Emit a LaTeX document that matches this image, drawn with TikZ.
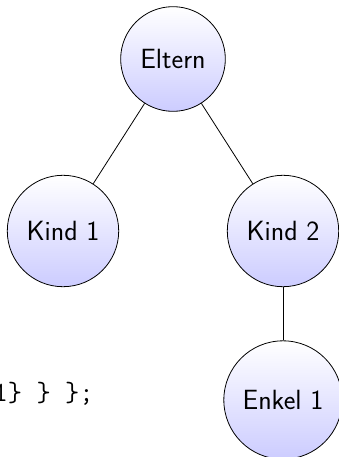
\documentclass[tikz,border=0pt]{standalone}
\usepackage{fontspec}
\begin{document}
\begin{tikzpicture}[x=1pt,y=-1pt,
  treenode/.style={circle,draw=black,line width=0.8pt,top color=white,bottom color=blue!20,
    inner sep=14pt,font=\fontsize{27.8}{33}\selectfont\sffamily},
  link/.style={draw=black,line width=0.8pt},
  codetxt/.style={inner sep=0pt,font=\fontsize{27.8}{33}\selectfont\ttfamily}]
\useasboundingbox (0,0) rectangle (339,457);
\begin{scope}
\clip (0,0) rectangle (339,457);
\node[treenode] (eltern) at (173,59) {Eltern};
\node[treenode] (kind1) at (63,231) {Kind 1};
\node[treenode] (kind2) at (283,231) {Kind 2};
\node[treenode] (enkel1) at (283,400) {Enkel 1};
\draw[link] (eltern) -- (kind1);
\draw[link] (eltern) -- (kind2);
\draw[link] (kind2) -- (enkel1);
\node[codetxt,anchor=base east] (code) at (94,401) {1\} \} \};};
\end{scope}
\end{tikzpicture}
\end{document}
